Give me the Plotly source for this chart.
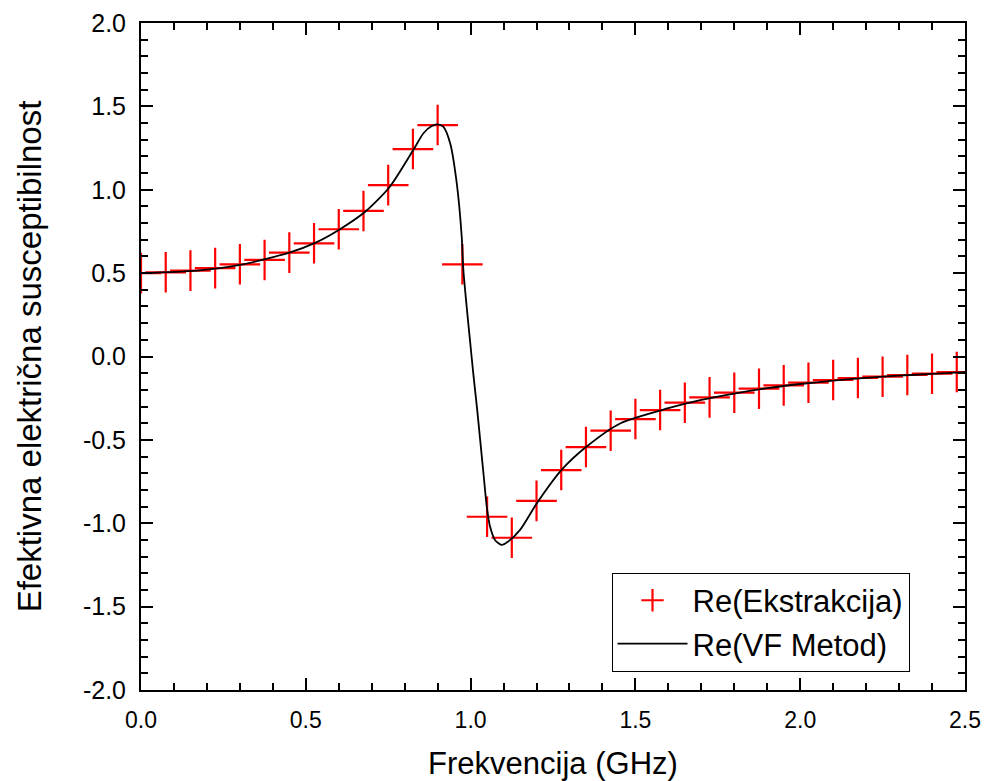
import plotly.graph_objects as go

# Extracted data (markers)
freq_ext = [0.0, 0.075, 0.15, 0.225, 0.3, 0.375, 0.45, 0.525, 0.6, 0.675, 0.75, 0.825,
            0.9, 0.975, 1.05, 1.125, 1.2, 1.275, 1.35, 1.425, 1.5, 1.575, 1.65, 1.725,
            1.8, 1.875, 1.95, 2.025, 2.1, 2.175, 2.25, 2.325, 2.4, 2.475]
re_ext = [0.50, 0.505, 0.515, 0.53, 0.553, 0.579, 0.623, 0.679, 0.763, 0.873, 1.028, 1.244,
          1.388, 0.553, -0.961, -1.087, -0.866, -0.681, -0.543, -0.445, -0.375, -0.321,
          -0.277, -0.245, -0.217, -0.193, -0.173, -0.157, -0.141, -0.129, -0.121, -0.111,
          -0.103, -0.093]

# VF method curve
freq_vf = [0.0, 0.17, 0.30, 0.45, 0.53, 0.60, 0.68, 0.755, 0.826, 0.857, 0.882, 0.899,
           0.917, 0.938, 0.958, 0.973, 0.978, 0.988, 0.998, 1.008, 1.019, 1.029, 1.039,
           1.049, 1.059, 1.074, 1.094, 1.114, 1.150, 1.201, 1.276, 1.352, 1.455, 1.6,
           1.7, 1.8, 1.9, 2.0, 2.1, 2.2, 2.3, 2.4, 2.5]
re_vf = [0.50, 0.515, 0.549, 0.623, 0.683, 0.759, 0.868, 1.018, 1.238, 1.339, 1.382, 1.392,
         1.378, 1.279, 1.039, 0.72, 0.52, 0.30, 0.10, -0.10, -0.30, -0.50, -0.70,
         -0.90, -1.02, -1.10, -1.13, -1.11, -1.04, -0.88, -0.68, -0.54, -0.40, -0.31,
         -0.26, -0.222, -0.19, -0.165, -0.145, -0.128, -0.115, -0.104, -0.094]

x_ticks = [0.0, 0.5, 1.0, 1.5, 2.0, 2.5]
y_ticks = [-2.0, -1.5, -1.0, -0.5, 0.0, 0.5, 1.0, 1.5, 2.0]

FONT = "Liberation Sans, Arial, sans-serif"

fig = go.Figure()
fig.add_trace(go.Scatter(
    x=freq_ext, y=re_ext, mode="markers", name="Re(Ekstrakcija)",
    marker=dict(symbol="cross-thin", size=29, line=dict(color="#ff0000", width=2.2),
                color="#ff0000"),
))
fig.add_trace(go.Scatter(
    x=freq_vf, y=re_vf, mode="lines", name="Re(VF Metod)",
    line=dict(color="black", width=1.8, shape="spline", smoothing=0.7),
))

axis_common = dict(
    showline=True, linecolor="black", linewidth=2, mirror="allticks",
    ticks="inside", ticklen=12, tickwidth=2, tickcolor="black",
    showgrid=False, zeroline=False, automargin=False,
)

fig.update_xaxes(
    range=[0, 2.5], tickvals=x_ticks, ticktext=[f"{v:.1f}" for v in x_ticks],
    minor=dict(ticks="inside", ticklen=7, tickwidth=2, tickcolor="black", dtick=0.1,
               showgrid=False),
    tickfont=dict(family=FONT, size=23, color="black"),
    ticklabelstandoff=8,
    title=dict(text="Frekvencija (GHz)", font=dict(family=FONT, size=31, color="black"),
               standoff=22),
    **axis_common,
)
fig.update_yaxes(
    range=[-2, 2], tickvals=y_ticks, ticktext=[f"{v:.1f}" for v in y_ticks],
    minor=dict(ticks="inside", ticklen=7, tickwidth=2, tickcolor="black", dtick=0.1,
               showgrid=False),
    tickfont=dict(family=FONT, size=25, color="black"),
    ticklabelstandoff=8,
    title=dict(text="Efektivna električna susceptibilnost",
               font=dict(family=FONT, size=33, color="black"), standoff=31),
    **axis_common,
)

fig.update_layout(
    width=986, height=781,
    margin=dict(l=141, r=21, t=23, b=91, autoexpand=False),
    plot_bgcolor="white", paper_bgcolor="white",
    showlegend=True,
    legend=dict(
        x=0.571, y=0.176, xanchor="left", yanchor="top",
        bgcolor="white", bordercolor="black", borderwidth=1,
        font=dict(family=FONT, size=31, color="black"),
        itemwidth=70, tracegroupgap=0,
    ),
)

fig.write_html("out.html",
               config={"displayModeBar": False},
               post_script="document.body.style.margin='0';document.body.style.padding='0';")
